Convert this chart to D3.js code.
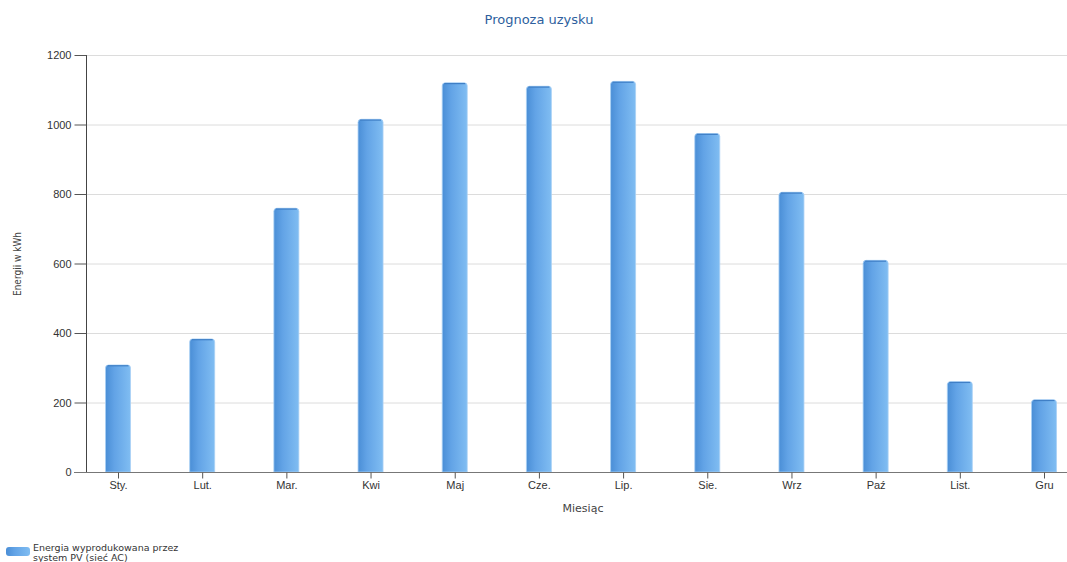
<!DOCTYPE html>
<html><head><meta charset="utf-8">
<script src="https://cdn.jsdelivr.net/npm/d3@7"></script>
<style>body{margin:0;background:#fff}svg{display:block;font-family:"DejaVu Sans",Verdana,sans-serif}</style>
</head><body><svg id="c" width="1067" height="562"></svg>
<script>
const months = ["Sty.","Lut.","Mar.","Kwi","Maj","Cze.","Lip.","Sie.","Wrz","Paź","List.","Gru"];
const energy = [308,383,759,1015,1120,1110,1124,974,805,609,260,208];
const yTicks = [0,200,400,600,800,1000,1200];
const title = "Prognoza uzysku";
const xTitle = "Miesiąc";
const yTitle = "Energii w kWh";
const seriesName = ["Energia wyprodukowana przez","system PV (sieć AC)"];

const svg = d3.select("#c");
const axisLeft = 86, plotRight = 1067, plotTop = 55, plotBottom = 472;
const x = d3.scalePoint().domain(months).range([118, 1044]);
const y = d3.scaleLinear().domain([0,1200]).range([plotBottom, plotTop]);
const bw = 25;

const defs = svg.append("defs");
const g = defs.append("linearGradient").attr("id","bar").attr("x1","0").attr("x2","1").attr("y1","0").attr("y2","0");
g.append("stop").attr("offset","0").attr("stop-color","#4a8ed6");
g.append("stop").attr("offset","0.35").attr("stop-color","#62a3e6");
g.append("stop").attr("offset","1").attr("stop-color","#80bdf2");

// gridlines
svg.append("g").selectAll("line").data(yTicks.filter(d=>d>0)).join("line")
  .attr("x1",axisLeft).attr("x2",plotRight).attr("y1",d=>y(d)+0.5).attr("y2",d=>y(d)+0.5)
  .attr("stroke","#dcdcdc").attr("stroke-width",1);

// bars
svg.append("g").selectAll("path").data(energy).join("path")
  .attr("d",(d,i)=>{const x0=x(months[i])-bw/2, y0=y(d), r=3; return `M${x0},${plotBottom}V${y0+r}Q${x0},${y0} ${x0+r},${y0}H${x0+bw-r}Q${x0+bw},${y0} ${x0+bw},${y0+r}V${plotBottom}Z`;})
  .attr("fill","url(#bar)").attr("stroke","#a9d1f5").attr("stroke-width",0.8);
svg.append("g").selectAll("line").data(energy).join("line")
  .attr("x1",(d,i)=>x(months[i])-bw/2+2).attr("x2",(d,i)=>x(months[i])+bw/2-2)
  .attr("y1",d=>y(d)+0.8).attr("y2",d=>y(d)+0.8).attr("stroke","#3f7fc6").attr("stroke-width",1.2);

// y axis
const ya = svg.append("g").attr("transform",`translate(${axisLeft+0.5},0)`)
  .call(d3.axisLeft(y).tickValues(yTicks).tickFormat(d3.format("d")).tickSize(12).tickPadding(3));
ya.select(".domain").attr("stroke","#444").attr("d",`M0,${plotTop}V${plotBottom}`);
ya.selectAll(".tick line").attr("stroke","#555");
ya.selectAll("text").attr("fill","#333").attr("font-size",11);

// x axis
const xa = svg.append("g").attr("transform",`translate(0,${plotBottom+0.5})`)
  .call(d3.axisBottom(x).tickSize(6).tickPadding(3));
xa.select(".domain").attr("stroke","#777").attr("d",`M${axisLeft-12},0H${plotRight}`);
xa.selectAll(".tick line").attr("stroke","#555");
xa.selectAll("text").attr("fill","#333").attr("font-size",11);

svg.append("text").attr("x",539).attr("y",24).attr("text-anchor","middle").attr("fill","#2e5f9e").attr("font-size",13).text(title);
svg.append("text").attr("x",583).attr("y",512).attr("text-anchor","middle").attr("fill","#444").attr("font-size",11).text(xTitle);
svg.append("text").attr("transform","translate(21,264) rotate(-90)").attr("text-anchor","middle").attr("fill","#444")
  .attr("font-size",10).attr("font-family","'Liberation Sans Narrow','DejaVu Sans Condensed',sans-serif").text(yTitle);

// legend
svg.append("rect").attr("x",6).attr("y",547).attr("width",24).attr("height",9).attr("rx",3).attr("fill","url(#bar)");
svg.append("text").attr("x",33).attr("y",551).attr("fill","#333").attr("font-size",9.5).text(seriesName[0]);
svg.append("text").attr("x",33).attr("y",561).attr("fill","#333").attr("font-size",9.5).text(seriesName[1]);
</script></body></html>
